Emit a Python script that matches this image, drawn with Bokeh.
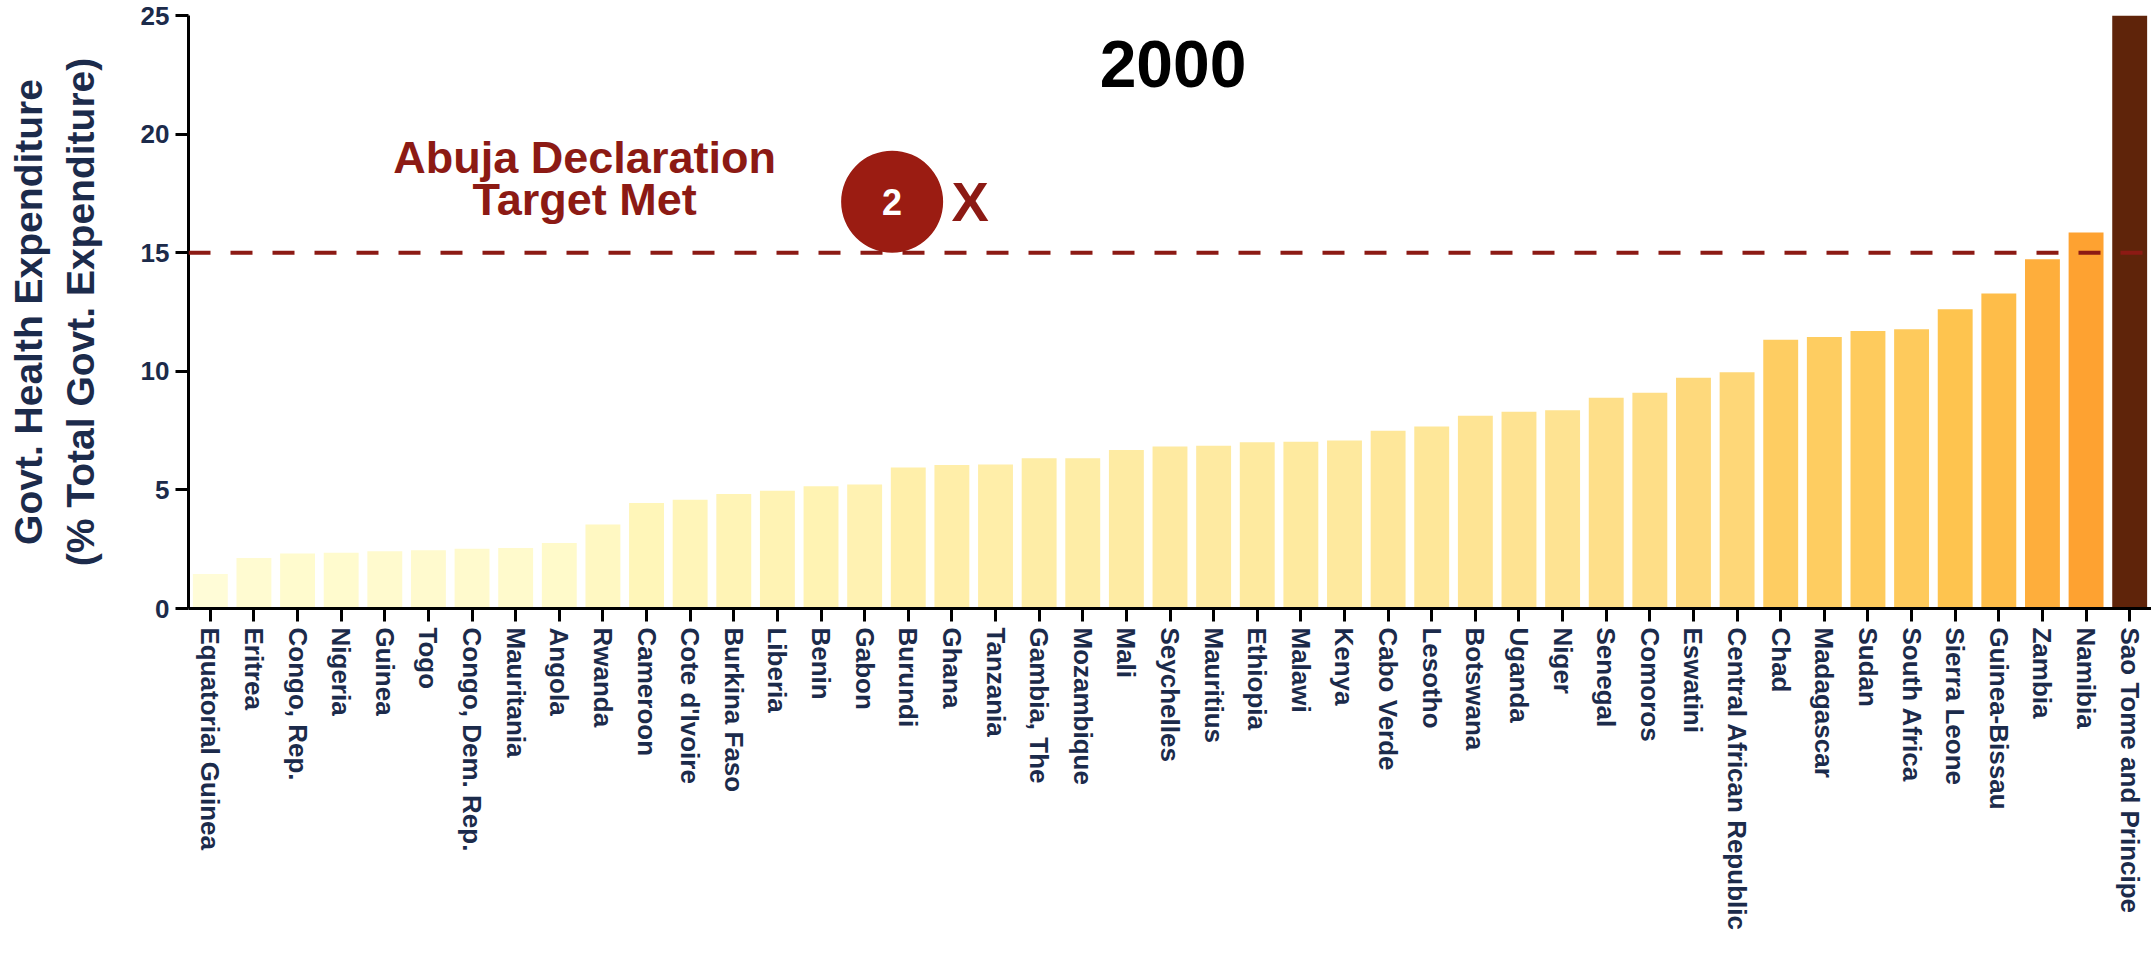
import math
import numpy as np
from bokeh.plotting import figure
from bokeh.models import (FactorRange, Range1d, Span, Label, ColumnDataSource,
                          LinearColorMapper)
from bokeh.transform import transform
from bokeh.palettes import YlOrBr9
from bokeh.embed import file_html
from bokeh.resources import INLINE

# ---------------- data ----------------
countries = [
    "Equatorial Guinea", "Eritrea", "Congo, Rep.", "Nigeria", "Guinea", "Togo",
    "Congo, Dem. Rep.", "Mauritania", "Angola", "Rwanda", "Cameroon",
    "Cote d'Ivoire", "Burkina Faso", "Liberia", "Benin", "Gabon", "Burundi",
    "Ghana", "Tanzania", "Gambia, The", "Mozambique", "Mali", "Seychelles",
    "Mauritius", "Ethiopia", "Malawi", "Kenya", "Cabo Verde", "Lesotho",
    "Botswana", "Uganda", "Niger", "Senegal", "Comoros", "Eswatini",
    "Central African Republic", "Chad", "Madagascar", "Sudan", "South Africa",
    "Sierra Leone", "Guinea-Bissau", "Zambia", "Namibia",
    "Sao Tome and Principe",
]
values = [
    1.45, 2.13, 2.32, 2.35, 2.41, 2.46, 2.52, 2.55, 2.76, 3.54, 4.45, 4.59,
    4.83, 4.96, 5.15, 5.23, 5.94, 6.05, 6.07, 6.33, 6.33, 6.68, 6.83, 6.86,
    7.01, 7.03, 7.08, 7.49, 7.67, 8.13, 8.29, 8.36, 8.88, 9.10, 9.73, 9.96,
    11.33, 11.45, 11.70, 11.77, 12.62, 13.28, 14.72, 15.85, 25.0,
]
year_label = "2000"
target_value = 15
targets_met = "2"
y_ticks = [0, 5, 10, 15, 20, 25]

# ---------------- styling ----------------
NAVY = "#1c2b4b"
RED = "#8c1a14"
FONT = "Liberation Sans"

# colour scale (YlOrBr), values above the high end drawn in darkest brown
base = [tuple(int(c[i:i + 2], 16) for i in (1, 3, 5)) for c in YlOrBr9[::-1]]
base = np.array(base, dtype=float)
pos = np.linspace(0, 1, len(base))
pal = []
for t in np.linspace(0, 0.625, 256):
    rgb = [np.interp(t, pos, base[:, k]) for k in range(3)]
    pal.append("#%02x%02x%02x" % tuple(int(round(v)) for v in rgb))
mapper = LinearColorMapper(palette=pal, low=0, high=21, high_color="#5f240a")

src = ColumnDataSource(dict(country=countries, value=values))

p = figure(
    width=2151, height=954,
    x_range=FactorRange(factors=countries, range_padding=0),
    y_range=Range1d(0, 25),
    output_backend="svg", toolbar_location=None,
    min_border_left=188, min_border_right=0, min_border_top=15,
    min_border_bottom=346,
)
p.outline_line_color = None
p.background_fill_color = "white"
p.border_fill_color = "white"
p.xgrid.grid_line_color = None
p.ygrid.grid_line_color = None

p.vbar(x="country", top="value", width=0.8, source=src,
       fill_color=transform("value", mapper), line_color=None)

p.add_layout(Span(location=target_value, dimension="width", line_color=RED,
                  line_width=4, line_dash="22 20"))

# axes
for ax in (p.xaxis[0], p.yaxis[0]):
    ax.axis_line_color = "black"
    ax.axis_line_width = 3
    ax.major_tick_line_color = "black"
    ax.major_tick_line_width = 3
    ax.major_tick_out = 13
    ax.major_tick_in = 0
    ax.minor_tick_line_color = None
    ax.major_label_text_color = NAVY
    ax.major_label_text_font = FONT
    ax.major_label_text_font_style = "bold"

p.yaxis.ticker = y_ticks
p.yaxis.major_label_text_font_size = "26px"
p.yaxis.major_label_standoff = 6
p.yaxis.axis_label = "Govt. Health Expenditure\n(% Total Govt. Expenditure)"
p.yaxis.axis_label_text_font = FONT
p.yaxis.axis_label_text_font_style = "bold"
p.yaxis.axis_label_text_font_size = "39px"
p.yaxis.axis_label_text_color = NAVY
p.yaxis.axis_label_standoff = 36

p.xaxis.major_label_orientation = -math.pi / 2
p.xaxis.major_label_text_font_size = "26px"
p.xaxis.major_label_standoff = 6

# annotations
p.add_layout(Label(x=22.57, y=22.95, text=year_label, text_align="center",
                   text_baseline="alphabetic", text_font=FONT,
                   text_font_style="bold", text_font_size="66px",
                   text_color="black"))
p.add_layout(Label(x=9.08, y=19.0, text="Abuja Declaration",
                   text_align="center", text_baseline="alphabetic",
                   text_font=FONT, text_font_style="bold",
                   text_font_size="45px", text_color=RED))
p.add_layout(Label(x=9.08, y=17.25, text="Target Met",
                   text_align="center", text_baseline="alphabetic",
                   text_font=FONT, text_font_style="bold",
                   text_font_size="45px", text_color=RED))
p.scatter(x=[16.13], y=[17.15], size=102, marker="circle",
          fill_color="#9b1c12", line_color=None)
p.add_layout(Label(x=16.13, y=17.15, text=targets_met, text_align="center",
                   text_baseline="middle", text_font=FONT,
                   text_font_style="bold", text_font_size="36px",
                   text_color="white"))
p.add_layout(Label(x=17.92, y=17.17, text="X", text_align="center",
                   text_baseline="alphabetic", text_font=FONT,
                   text_font_style="bold", text_font_size="56px",
                   text_color=RED))

open("out.html", "w").write(file_html(p, INLINE))
